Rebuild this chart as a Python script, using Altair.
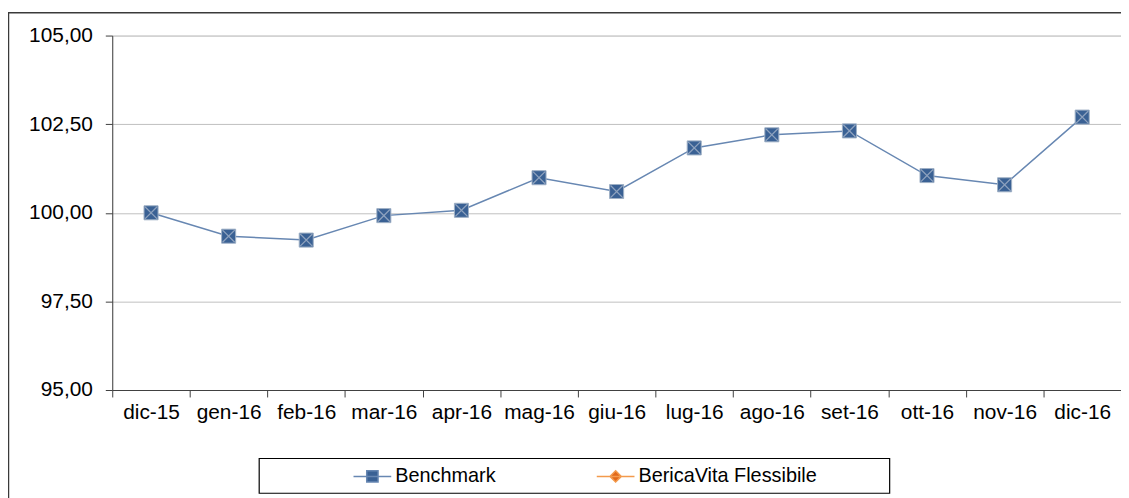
import altair as alt
import pandas as pd

months = ["dic-15", "gen-16", "feb-16", "mar-16", "apr-16", "mag-16", "giu-16",
          "lug-16", "ago-16", "set-16", "ott-16", "nov-16", "dic-16"]
benchmark = [100.00, 99.34, 99.23, 99.92, 100.07, 100.99, 100.60,
             101.83, 102.20, 102.31, 101.05, 100.79, 102.70]
series_names = ["Benchmark", "BericaVita Flessibile"]
y_ticks = [95.0, 97.5, 100.0, 102.5, 105.0]

line_colors = ["#6787B2", "#F39A4C"]
fill_colors = ["#3A6194", "#E2691A"]
legend_shapes = [
    "M-1,0H1M-0.3,-0.3H0.3V0.3H-0.3Z",
    "M-1,0H1M0,-0.3L0.3,0L0,0.3L-0.3,0Z",
]

df = pd.DataFrame({"mese": months, "valore": benchmark, "serie": "Benchmark"})

FONT = "Liberation Sans"

x_enc = alt.X(
    "mese:N", sort=months,
    scale=alt.Scale(type="band", domain=months, paddingInner=0, paddingOuter=0),
    axis=alt.Axis(title=None, labelAngle=0, tickBand="extent", tickSize=7,
                  labelPadding=5, labelFontSize=21, labelFont=FONT,
                  labelColor="#000000", domainColor="#404040", tickColor="#404040",
                  grid=False),
)
y_enc = alt.Y(
    "valore:Q",
    scale=alt.Scale(domain=[95, 105], nice=False, zero=False),
    axis=alt.Axis(title=None, values=y_ticks, tickSize=7, labelPadding=13,
                  labelFontSize=21, labelFont=FONT, labelColor="#000000",
                  labelExpr="replace(format(datum.value, '.2f'), '.', ',')",
                  domainColor="#404040", tickColor="#404040",
                  grid=True, gridColor="#C0C0C0", gridWidth=1),
)

leg = alt.Legend(
    orient="none", legendX=242, legendY=424, direction="horizontal", title=None,
    labelFontSize=20, labelFont=FONT, labelColor="#000000", labelOffset=3,
    labelLimit=400, columnPadding=98, symbolSize=1444, symbolStrokeWidth=1.5,
    padding=0,
)

base = alt.Chart(df)

line = base.mark_line(strokeWidth=1.5).encode(
    x=x_enc, y=y_enc,
    stroke=alt.Stroke("serie:N", scale=alt.Scale(domain=series_names, range=line_colors), legend=leg),
)
squares = base.mark_point(shape="square", filled=True, size=200, stroke="#9FB0C6",
                          strokeWidth=1, opacity=1).encode(
    x=x_enc, y=y_enc,
    fill=alt.Fill("serie:N", scale=alt.Scale(domain=series_names, range=fill_colors), legend=leg),
)
crosses = base.mark_point(shape="M-1,-1L1,1M-1,1L1,-1", filled=False, size=150,
                          stroke="#8EA2BE", strokeWidth=1.3, opacity=1).encode(
    x=x_enc, y=y_enc,
)
ghost = base.mark_point(filled=True).encode(
    x=x_enc, y=y_enc,
    shape=alt.Shape("serie:N", scale=alt.Scale(domain=series_names, range=legend_shapes), legend=leg),
).transform_filter("false")

one = pd.DataFrame({"k": [0]})
outer = alt.Chart(one).mark_rect(fill="transparent", stroke="#3A3A3A", strokeWidth=1.5).encode(
    x=alt.value(-104.5), x2=alt.value(1200), y=alt.value(-23), y2=alt.value(520),
)
legbox = alt.Chart(one).mark_rect(fill="transparent", stroke="#000000", strokeWidth=1.2).encode(
    x=alt.value(148), x2=alt.value(783), y=alt.value(426), y2=alt.value(461),
)

chart = alt.layer(outer, legbox, line, squares, crosses, ghost).properties(
    width=1016, height=357,
    autosize=alt.AutoSizeParams(type="none"),
    padding={"left": 105, "top": 26, "right": 0, "bottom": 107},
).configure_view(stroke="#404040", strokeWidth=1.2).configure(font=FONT)

chart.save("out.html", embed_options={"renderer": "svg", "actions": False})
